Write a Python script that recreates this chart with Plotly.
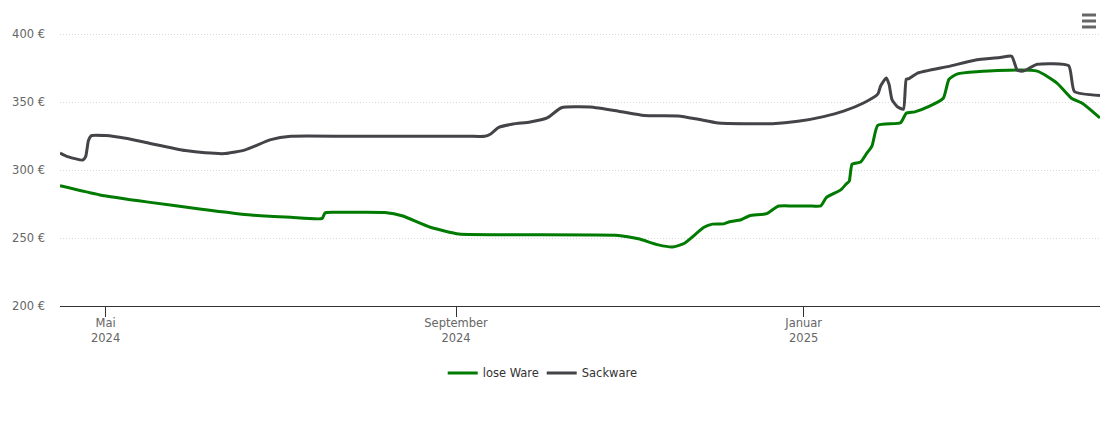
import plotly.graph_objs as go

lose_dates = ['2024-04-15','2024-04-29','2024-05-16','2024-06-03','2024-06-21','2024-07-05','2024-07-16','2024-07-17',
              '2024-07-20','2024-07-30','2024-08-07','2024-08-13','2024-08-23','2024-09-02','2024-09-16','2024-10-28','2024-11-04','2024-11-11',
              '2024-11-16','2024-11-20','2024-11-27','2024-11-30','2024-12-04','2024-12-06','2024-12-10','2024-12-13','2024-12-19','2024-12-23',
              '2024-12-28','2025-01-03','2025-01-07','2025-01-09','2025-01-14','2025-01-16','2025-01-17','2025-01-18','2025-01-21','2025-01-23',
              '2025-01-25','2025-01-27','2025-02-04','2025-02-06','2025-02-09','2025-02-14','2025-02-19','2025-02-21',
              '2025-02-24','2025-03-10','2025-03-24','2025-03-31','2025-04-05','2025-04-09','2025-04-15']
lose_values = [288.5,281.8,276.5,271.5,267,265.3,264.5,268.5,
               269,269,268.8,266.5,258,253,252.5,252,249.5,245,
               243.5,246,258,260.3,260.5,262,263.5,266.5,268,273.5,
               273.7,273.7,273.7,280,285.5,290,292,304.5,306,312,
               318,333,335,342,343,347,353,367,
               371,373.5,373,364,353,349,338.5]

sack_dates = ['2024-04-15','2024-04-18','2024-04-23','2024-04-24','2024-04-25','2024-04-26','2024-05-01','2024-05-08',
              '2024-05-16','2024-05-29','2024-06-05','2024-06-12','2024-06-19','2024-06-28','2024-07-05','2024-07-26',
              '2024-09-05','2024-09-11','2024-09-13','2024-09-16','2024-09-21','2024-09-27','2024-10-03','2024-10-08','2024-10-18',
              '2024-10-28','2024-11-06','2024-11-18','2024-11-25','2024-12-02','2024-12-21','2024-12-30','2025-01-08',
              '2025-01-15','2025-01-22','2025-01-27','2025-01-28','2025-01-30','2025-01-31','2025-02-01','2025-02-03',
              '2025-02-05','2025-02-06','2025-02-07','2025-02-10','2025-02-21','2025-03-02','2025-03-11','2025-03-15',
              '2025-03-17','2025-03-19','2025-03-24','2025-04-04','2025-04-06','2025-04-15']
sack_values = [312.7,309.8,307.5,310,322,325.5,325.5,323.5,
               320,314.5,312.8,312.3,315,322.5,325,325,
               325,325,326.5,331.5,334,335.5,338.5,346,346.5,
               343.5,340.3,340,337.5,334.8,334.3,336,339.5,
               343.5,349.5,356,362,368,363,352,346.5,
               345,367,367.5,371.5,376.5,381,383,384,
               373.5,373,378,377,358,355]

y_ticks = [200,250,300,350,400]
y_labels = ['200 €','250 €','300 €','350 €','400 €']
x_ticks = ['2024-05-01','2024-09-01','2025-01-01']
x_labels = ['Mai<br>2024','September<br>2024','Januar<br>2025']

fig = go.Figure()
fig.add_trace(go.Scatter(x=lose_dates, y=lose_values, name='lose Ware', mode='lines',
                         line=dict(color='#007a00', width=3, shape='spline', smoothing=0.5)))
fig.add_trace(go.Scatter(x=sack_dates, y=sack_values, name='Sackware', mode='lines',
                         line=dict(color='#434348', width=3, shape='spline', smoothing=0.5)))

# page body has an 8px margin, so the figure starts at (8,8)
fig.update_layout(
    width=1102, height=407,
    margin=dict(l=52, r=10, t=2, b=109),
    paper_bgcolor='white', plot_bgcolor='white',
    font=dict(family='DejaVu Sans', size=11.5, color='#666666'),
    hovermode='x unified',
    legend=dict(orientation='h', x=0.368, xanchor='left', y=-0.177, yanchor='top',
                font=dict(size=11.5, color='#333333', family='DejaVu Sans'), itemwidth=30,
                entrywidth=54, entrywidthmode='pixels'),
)
fig.update_xaxes(type='date', range=['2024-04-15','2025-04-15'], tickvals=x_ticks, ticktext=x_labels,
                 ticks='outside', ticklen=10, tickcolor='#333333', showline=True, linecolor='#333333',
                 showgrid=False, zeroline=False, ticklabelstandoff=-4)
fig.update_yaxes(range=[200,418], tickvals=y_ticks, ticktext=y_labels, showgrid=True, gridcolor='#d8d8d8',
                 griddash='1px,2px', zeroline=False, ticks='', ticklabelstandoff=14)

# menu icon
for top in [15,21,27]:
    fig.add_shape(type='line', xref='paper', yref='paper', x0=(1082-60)/1040, x1=(1096-60)/1040,
                  y0=(306-top)/296, y1=(306-top)/296, line=dict(color='#666666', width=3))

fig.write_html("out.html")
